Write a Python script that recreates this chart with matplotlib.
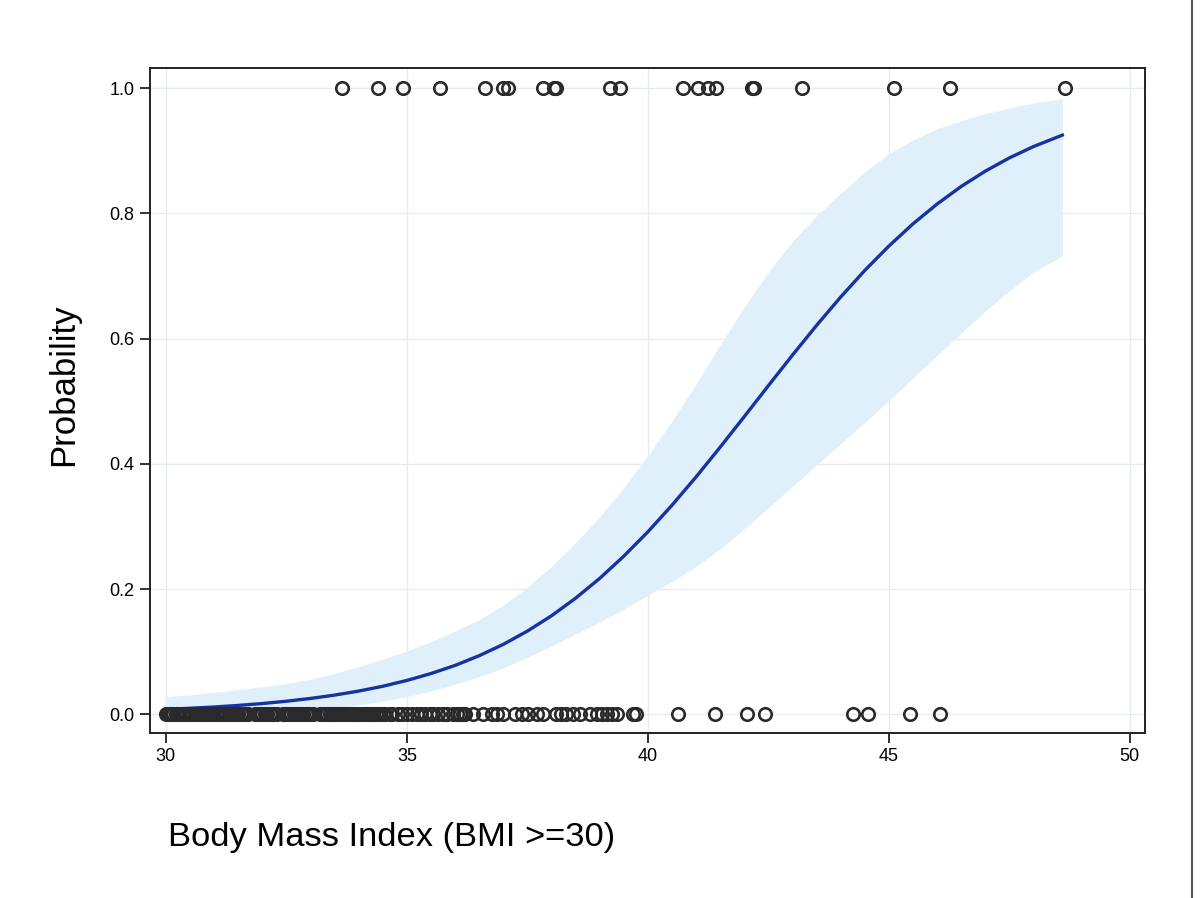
import matplotlib
matplotlib.use("Agg")
import matplotlib.pyplot as plt
from matplotlib.lines import Line2D

# fitted probability and confidence band
fit_x = [30, 30.5, 31, 31.5, 32, 32.5, 33, 33.5, 34, 34.5, 35, 35.5, 36, 36.5, 37, 37.5,
         38, 38.5, 39, 39.5, 40, 40.5, 41, 41.5, 42, 42.5, 43, 43.5, 44, 44.5, 45, 45.5,
         46, 46.5, 47, 47.5, 48, 48.6]
fit_p = [0.0078, 0.0095, 0.0116, 0.0141, 0.0171, 0.0208, 0.0252, 0.0306, 0.0370, 0.0447,
         0.0540, 0.0650, 0.0780, 0.0935, 0.1116, 0.1328, 0.1572, 0.1853, 0.2169, 0.2524,
         0.2913, 0.3338, 0.3790, 0.4265, 0.4753, 0.5247, 0.5735, 0.6210, 0.6662, 0.7087,
         0.7476, 0.7831, 0.8147, 0.8428, 0.8672, 0.8884, 0.9065, 0.9248]
band_hi = [0.028, 0.031, 0.035, 0.039, 0.044, 0.049, 0.056, 0.065, 0.076, 0.088,
           0.101, 0.116, 0.133, 0.151, 0.174, 0.203, 0.236, 0.274, 0.315, 0.362,
           0.413, 0.468, 0.527, 0.590, 0.650, 0.706, 0.755, 0.796, 0.832, 0.866,
           0.895, 0.917, 0.935, 0.948, 0.959, 0.968, 0.976, 0.983]
band_lo = [0.001, 0.0015, 0.002, 0.003, 0.004, 0.006, 0.008, 0.011, 0.015, 0.021,
           0.028, 0.037, 0.048, 0.060, 0.074, 0.091, 0.109, 0.128, 0.147, 0.168,
           0.190, 0.212, 0.236, 0.264, 0.296, 0.330, 0.364, 0.398, 0.432, 0.466,
           0.501, 0.537, 0.573, 0.609, 0.644, 0.676, 0.706, 0.732]

# observed BMI values with outcome = 1
bmi_yes = [33.65, 34.40, 34.92, 35.68, 36.62, 36.99, 37.10, 37.82, 38.05, 38.10,
           39.21, 39.42, 40.73, 41.04, 41.24, 41.41, 42.15, 42.20, 43.20, 45.10,
           46.27, 48.65]

# observed BMI values with outcome = 0
bmi_no = [30.0, 30.04, 30.08, 30.1, 30.15, 30.2, 30.22, 30.27, 30.33, 30.38, 30.42,
          30.47, 30.5, 30.55, 30.6, 30.63, 30.68, 30.72, 30.77, 30.8, 30.85, 30.9,
          30.94, 30.98, 31.03, 31.07, 31.1, 31.16, 31.2, 31.25, 31.3, 31.33, 31.38,
          31.42, 31.47, 31.5, 31.55, 31.6, 31.65, 31.7, 31.85, 31.9, 31.95, 32.0,
          32.05, 32.1, 32.15, 32.2, 32.25, 32.3, 32.42, 32.47, 32.5, 32.55, 32.6,
          32.65, 32.7, 32.75, 32.8, 32.85, 32.9, 32.95, 33.0, 33.05, 33.2, 33.25,
          33.3, 33.35, 33.4, 33.45, 33.5, 33.55, 33.6, 33.65, 33.7, 33.75, 33.8,
          33.85, 33.9, 33.95, 34.0, 34.05, 34.1, 34.15, 34.2, 34.25, 34.3, 34.35,
          34.4, 34.45, 34.5, 34.55, 34.65, 34.7, 34.81, 34.9, 35.0, 35.1, 35.2,
          35.3, 35.37, 35.48, 35.55, 35.64, 35.75, 35.83, 35.95, 36.04, 36.1,
          36.17, 36.2, 36.37, 36.58, 36.76, 36.86, 36.99, 37.24, 37.38, 37.51,
          37.69, 37.82, 38.1, 38.2, 38.3, 38.44, 38.59, 38.8, 38.94, 39.05, 39.15,
          39.25, 39.35, 39.69, 39.75, 40.62, 41.39, 42.05, 42.43, 44.25, 44.56,
          45.44, 46.06]

x_ticks = [30, 35, 40, 45, 50]
y_ticks = [0.0, 0.2, 0.4, 0.6, 0.8, 1.0]

plt.rcParams["font.family"] = ["Liberation Sans", "DejaVu Sans"]

fig = plt.figure(figsize=(12, 8.98), dpi=100)
ax = fig.add_axes([0.125, 0.1837, 0.829, 0.7406])

ax.fill_between(fit_x, band_lo, band_hi, color="#dff0fa", lw=0, zorder=1)
ax.plot(fit_x, fit_p, color="#1632a3", lw=2.4, zorder=3)

mk = dict(ls="none", marker="o", ms=9, mfc="none", mec="#2a2a2a", mew=1.9, zorder=4)
ax.plot(bmi_yes, [1.0] * len(bmi_yes), **mk)
ax.plot(bmi_no, [0.0] * len(bmi_no), **mk)

ax.set_xlim(29.67, 50.31)
ax.set_ylim(-0.030, 1.032)
ax.set_xticks(x_ticks)
ax.set_yticks(y_ticks)
ax.set_xticklabels([str(t) for t in x_ticks])
ax.set_yticklabels([f"{t:.1f}" for t in y_ticks])
ax.grid(True, color="#e6ecee", lw=1.0, zorder=0)
ax.set_axisbelow(True)
ax.tick_params(length=7, width=1.3, color="#222222", labelsize=13, pad=4)
for s in ax.spines.values():
    s.set_color("#222222")
    s.set_linewidth(1.4)

fig.text(0.14, 0.067, "Body Mass Index (BMI >=30)", fontsize=24.8, ha="left", va="center")
fig.text(0.053, 0.571, "Probability", fontsize=25, rotation=90, ha="center", va="center")

# thin border line at the right edge of the scanned figure
fig.add_artist(Line2D([0.9935, 0.9935], [0, 1], transform=fig.transFigure,
                      color="#555555", lw=1.5))

fig.savefig("out.png", dpi=100)
